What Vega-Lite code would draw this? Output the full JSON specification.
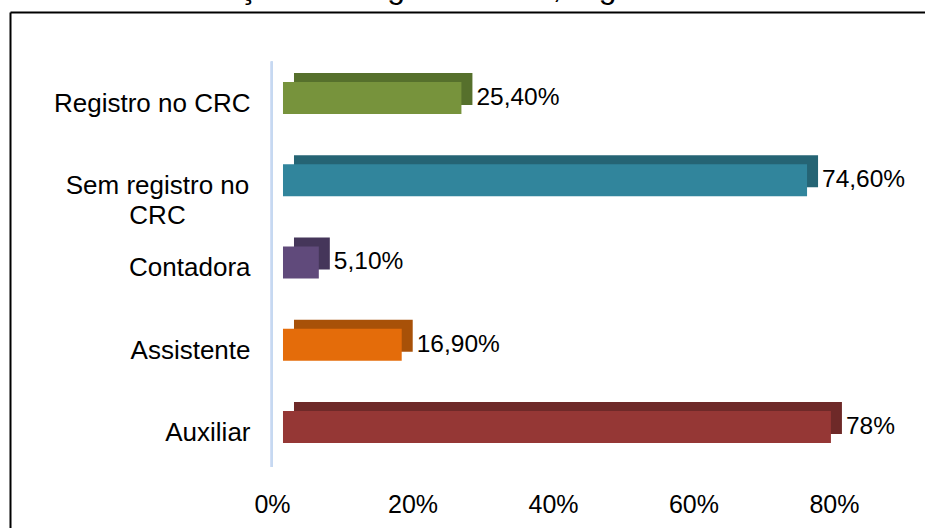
{
  "$schema": "https://vega.github.io/schema/vega-lite/v6.json",
  "width": 915,
  "height": 516,
  "autosize": {"type": "none"},
  "padding": {"left": 10, "top": 12, "right": 0, "bottom": 0},
  "background": "white",
  "title": {
    "text": "Ilustração 5: Cargo exercido; registro no CRC.",
    "font": "Liberation Sans",
    "fontSize": 32,
    "fontWeight": "normal",
    "color": "#000000",
    "anchor": "middle",
    "frame": "group",
    "baseline": "alphabetic",
    "offset": 6,
    "dy": 24,
    "dx": 13
  },
  "config": {
    "view": {"stroke": null},
    "font": "Liberation Sans"
  },
  "data": {
    "values": [
      {"cat": "Registro no CRC", "value": 25.4, "label": "25,40%"},
      {"cat": "Sem registro no CRC", "value": 74.6, "label": "74,60%"},
      {"cat": "Contadora", "value": 5.1, "label": "5,10%"},
      {"cat": "Assistente", "value": 16.9, "label": "16,90%"},
      {"cat": "Auxiliar", "value": 78, "label": "78%"}
    ]
  },
  "layer": [
    {
      "mark": {"type": "rule", "color": "#c6d9f1", "strokeWidth": 2},
      "encoding": {
        "x": {
          "datum": -1.6,
          "type": "quantitative",
          "scale": {"domain": [-38.86, 91.39], "nice": false, "zero": false},
          "axis": {"orient": "top", "title": null, "labels": false, "ticks": false, "grid": false, "domain": true, "domainColor": "#000000", "domainWidth": 2}
        },
        "y": {
          "datum": "Registro no CRC",
          "type": "nominal",
          "bandPosition": -0.64,
          "scale": {
            "domain": ["Registro no CRC", "Sem registro no CRC", "Contadora", "Assistente", "Auxiliar"],
            "paddingInner": 0.611, "paddingOuter": 0.9423, "align": 0.4516
          },
          "axis": {"orient": "left", "offset": 0, "title": null, "labels": false, "ticks": false, "grid": false, "domain": true, "domainColor": "#000000", "domainWidth": 2}
        },
        "y2": {"datum": "Auxiliar", "bandPosition": 1.75}
      }
    },
    {
      "encoding": {
        "y": {
          "field": "cat",
          "type": "nominal",
          "sort": null,
          "scale": {
            "domain": ["Registro no CRC", "Sem registro no CRC", "Contadora", "Assistente", "Auxiliar"],
            "paddingInner": 0.611, "paddingOuter": 0.9423, "align": 0.4516
          },
          "axis": {
            "title": null,
            "orient": "left",
            "offset": -262,
            "domain": false,
            "ticks": false,
            "tickSize": 0,
            "grid": false,
            "labelFont": "Liberation Sans",
            "labelFontSize": 26,
            "labelColor": "#000000",
            "labelPadding": {"condition": {"test": "datum.value == 'Sem registro no CRC'", "value": 115}, "value": 22},
            "labelAlign": {"condition": {"test": "datum.value == 'Sem registro no CRC'", "value": "center"}, "value": "right"},
            "labelBaseline": "middle",
            "labelOffset": 6,
            "labelLineHeight": 30,
            "labelLimit": 400,
            "labelExpr": "datum.value == 'Sem registro no CRC' ? ['Sem registro no', 'CRC'] : (datum.value == 'Assistente' ? 'Assistente\u00a0' : datum.value)"
          }
        },
        "x": {
          "field": "value",
          "type": "quantitative",
          "scale": {"domain": [-38.86, 91.39], "nice": false, "zero": false},
          "axis": {
            "title": null,
            "orient": "bottom",
            "offset": -58,
            "values": [0, 20, 40, 60, 80],
            "labelExpr": "datum.value + '%'",
            "domain": false,
            "ticks": false,
            "grid": false,
            "labelFont": "Liberation Sans",
            "labelFontSize": 25,
            "labelColor": "#000000",
            "labelPadding": 22,
            "labelOffset": -11,
            "labelBaseline": "top",
            "labelFlush": false
          }
        }
      },
      "layer": [
        {
          "mark": {"type": "bar", "xOffset": 11, "yOffset": -9},
          "encoding": {
            "color": {
              "field": "cat",
              "type": "nominal",
              "legend": null,
              "scale": {
                "domain": ["Registro no CRC", "Sem registro no CRC", "Contadora", "Assistente", "Auxiliar"],
                "range": ["#56702c", "#256474", "#45365a", "#a85108", "#6e2928"]
              }
            }
          }
        },
        {
          "mark": {"type": "bar"},
          "encoding": {
            "color": {
              "field": "cat",
              "type": "nominal",
              "legend": null,
              "scale": {
                "domain": ["Registro no CRC", "Sem registro no CRC", "Contadora", "Assistente", "Auxiliar"],
                "range": ["#77933c", "#31859c", "#604a7b", "#e46c0a", "#953735"]
              }
            }
          }
        },
        {
          "mark": {"type": "text", "align": "left", "baseline": "middle", "dx": 15, "font": "Liberation Sans", "fontSize": 24.5, "color": "#000000"},
          "encoding": {"text": {"field": "label", "type": "nominal"}}
        }
      ],
      "resolve": {"scale": {"color": "independent"}}
    }
  ],
  "resolve": {"axis": {"x": "independent", "y": "independent"}}
}
